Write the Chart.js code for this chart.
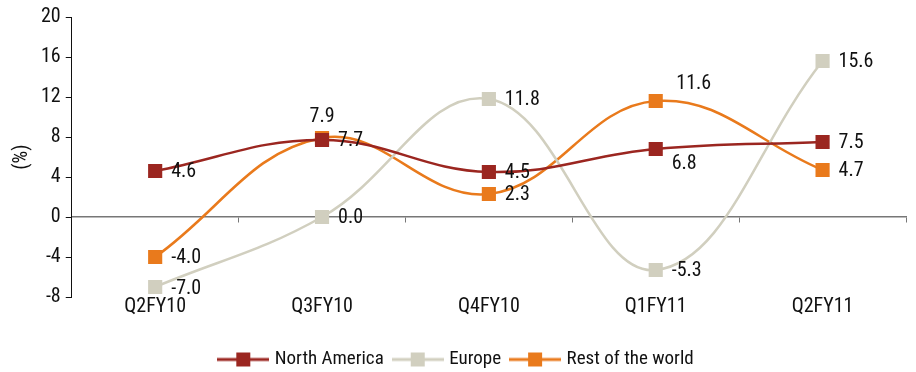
<!DOCTYPE html>
<html>
<head>
<meta charset="utf-8">
<script src="https://cdn.jsdelivr.net/npm/chart.js@4/dist/chart.umd.min.js"></script>
<style>
  html, body { margin: 0; padding: 0; background: #fff; }
  #wrap { width: 916px; height: 372px; }
</style>
</head>
<body>
<div id="wrap"><canvas id="chart" width="916" height="372"></canvas></div>
<script>
// data
const quarters = ["Q2FY10", "Q3FY10", "Q4FY10", "Q1FY11", "Q2FY11"];
const northAmerica = [4.6, 7.7, 4.5, 6.8, 7.5];
const europe = [-7.0, 0.0, 11.8, -5.3, 15.6];
const restOfWorld = [-4.0, 7.9, 2.3, 11.6, 4.7];
const yTicks = [-8, -4, 0, 4, 8, 12, 16, 20];

const FONT = "'Roboto Condensed', 'Liberation Sans Narrow', sans-serif";
const colors = { na: "#9b2620", eu: "#d1cfbf", row: "#e97a1c" };

// where each value label sits relative to its point
const labelPlace = [
  [[16, 1, "left"], [16, 1, "left"], [16, 1, "left"], [16, 15, "left"], [16, 1, "left"]],
  [[16, 2, "left"], [16, 1, "left"], [16, 1, "left"], [16, 1, "left"], [16, 1, "left"]],
  [[16, 1, "left"], [0, -21, "center"], [16, 1, "left"], [38, -17, "center"], [16, 1, "left"]],
];

// legend swatch: line with a square in the middle
function swatch(color) {
  const c = document.createElement("canvas");
  c.width = 52; c.height = 16;
  const g = c.getContext("2d");
  g.strokeStyle = color; g.lineWidth = 3;
  g.beginPath(); g.moveTo(0, 8); g.lineTo(52, 8); g.stroke();
  g.fillStyle = color;
  g.fillRect(19, 1, 14, 14);
  return c;
}

const valueLabels = {
  id: "valueLabels",
  afterDatasetsDraw(chart) {
    const ctx = chart.ctx;
    ctx.save();
    ctx.font = "20px " + FONT;
    ctx.fillStyle = "#111";
    ctx.textBaseline = "middle";
    chart.data.datasets.forEach((ds, di) => {
      chart.getDatasetMeta(di).data.forEach((pt, i) => {
        const p = labelPlace[di][i];
        ctx.textAlign = p[2];
        ctx.fillText(ds.data[i].toFixed(1), pt.x + p[0], pt.y + p[1]);
      });
    });
    ctx.restore();
  }
};

function series(label, data, color) {
  return {
    label, data,
    borderColor: color, backgroundColor: color,
    borderWidth: 2.5,
    pointStyle: "rect", pointRadius: 10, pointHoverRadius: 10,
    pointBorderWidth: 0,
    tension: 0.4,
  };
}

new Chart(document.getElementById("chart"), {
  type: "line",
  data: {
    labels: quarters,
    datasets: [
      series("North America", northAmerica, colors.na),
      series("Europe", europe, colors.eu),
      series("Rest of the world", restOfWorld, colors.row),
    ],
  },
  options: {
    responsive: false,
    animation: false,
    layout: { padding: { top: 4, right: 9, left: 8, bottom: -7 } },
    plugins: {
      tooltip: { enabled: false },
      legend: {
        position: "bottom",
        labels: {
          usePointStyle: true,
          pointStyleWidth: 44,
          padding: 12,
          color: "#111",
          font: { family: FONT, size: 19 },
          generateLabels(chart) {
            return chart.data.datasets.map((ds, i) => ({
              text: ds.label,
              pointStyle: swatch(ds.borderColor),
              fillStyle: ds.borderColor,
              strokeStyle: ds.borderColor,
              lineWidth: 0,
              datasetIndex: i,
              fontColor: "#111",
            }));
          },
        },
      },
    },
    scales: {
      x: {
        type: "category",
        offset: true,
        border: { display: false },
        grid: { display: false, drawTicks: false },
        ticks: { color: "#111", padding: -2, font: { family: FONT, size: 20 } },
        afterFit(scale) { scale.height = 41; },
      },
      xZero: {
        type: "category",
        labels: quarters,
        position: { y: 0 },
        offset: true,
        border: { display: true, color: "#777", width: 1.5 },
        grid: { display: true, offset: true, drawOnChartArea: false, tickLength: 5, color: "#777" },
        ticks: { display: false },
      },
      y: {
        min: -8, max: 20,
        afterBuildTicks(scale) { scale.ticks = yTicks.map(v => ({ value: v })); },
        border: { display: true, color: "#111", width: 1 },
        grid: { display: true, drawOnChartArea: false, tickLength: 6, color: "#111" },
        ticks: { color: "#111", padding: 5, font: { family: FONT, size: 20 } },
        title: { display: true, text: "(%)", color: "#111", padding: 2, font: { family: FONT, size: 20 } },
      },
    },
  },
  plugins: [valueLabels],
});
</script>
</body>
</html>
